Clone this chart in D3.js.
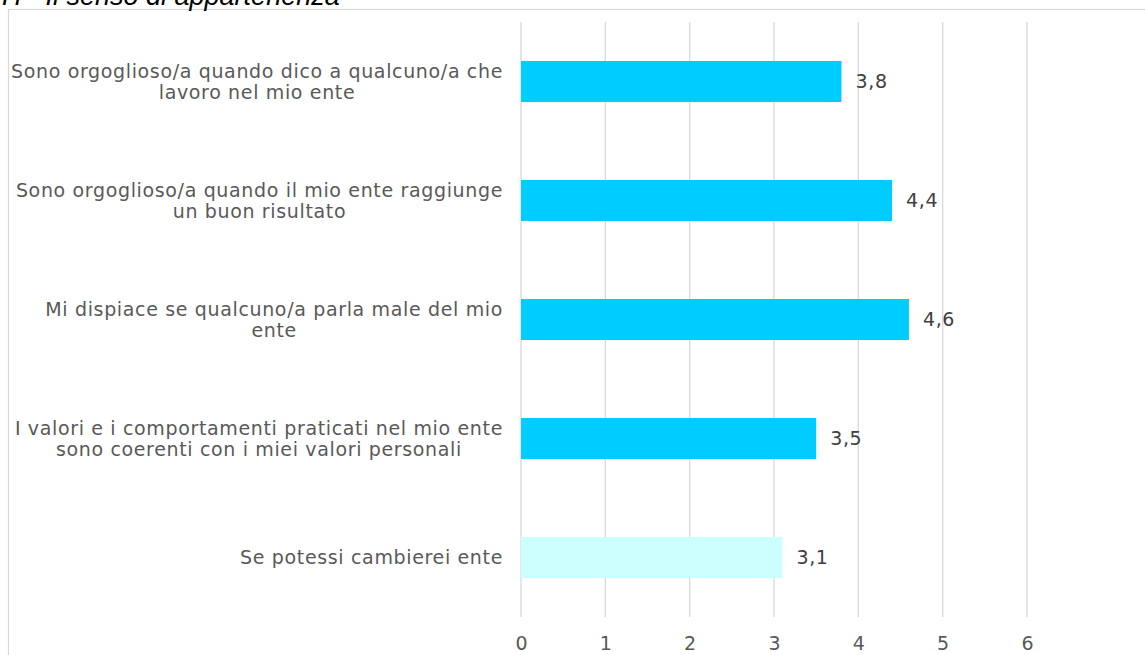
<!DOCTYPE html>
<html><head><meta charset="utf-8">
<script src="https://cdn.jsdelivr.net/npm/d3@7"></script>
<style>html,body{margin:0;padding:0;background:#fff;overflow:hidden}</style>
</head><body>
<svg id="c" width="1145" height="655"></svg>
<script>
const title = "H - Il senso di appartenenza";
const categories = [
  ["Sono orgoglioso/a quando dico a qualcuno/a che", "lavoro nel mio ente"],
  ["Sono orgoglioso/a quando il mio ente raggiunge", "un buon risultato"],
  ["Mi dispiace se qualcuno/a parla male del mio", "ente"],
  ["I valori e i comportamenti praticati nel mio ente", "sono coerenti con i miei valori personali"],
  ["Se potessi cambierei ente"]
];
const values = [3.8, 4.4, 4.6, 3.5, 3.1];
const barColors = ["#00CCFF", "#00CCFF", "#00CCFF", "#00CCFF", "#CCFFFF"];
const ticks = [0, 1, 2, 3, 4, 5, 6];

const svg = d3.select("#c");
const FONT = "'DejaVu Sans', Verdana, sans-serif";
const FS = 19, LS = 0.65;

svg.append("rect").attr("x", 8.5).attr("y", 9.5).attr("width", 1200).attr("height", 700)
  .attr("fill", "none").attr("stroke", "#d9d9d9").attr("stroke-width", 1.2);

svg.append("text").attr("x", 2).attr("y", 5).text(title)
  .attr("font-family", "'Liberation Sans', Arial, sans-serif").attr("font-style", "italic")
  .attr("font-size", 27).attr("fill", "#000");

const x = d3.scaleLinear().domain([0, 6]).range([521, 1027]);
const idx = d3.range(categories.length);
const y = d3.scaleBand().domain(idx).range([22, 617]).paddingInner(0.655).paddingOuter(0.3275);

// gridlines
svg.append("g").selectAll("line").data(ticks).join("line")
  .attr("x1", d => x(d)).attr("x2", d => x(d)).attr("y1", 22).attr("y2", 617)
  .attr("stroke", "#d9d9d9").attr("stroke-width", 1.3);

// axis
const axis = d3.axisBottom(x).tickValues(ticks).tickSize(0).tickPadding(0).tickFormat(d3.format("d"));
const ag = svg.append("g").attr("transform", "translate(0,636)").call(axis);
ag.select(".domain").remove();
ag.selectAll("text").attr("font-family", FONT).attr("font-size", FS).attr("fill", "#595959").attr("dy", "0.71em");

// bars
svg.append("g").selectAll("rect").data(idx).join("rect")
  .attr("x", x(0)).attr("y", i => y(i)).attr("width", i => x(values[i]) - x(0))
  .attr("height", y.bandwidth()).attr("fill", i => barColors[i]);

// value labels
svg.append("g").selectAll("text").data(idx).join("text")
  .attr("x", i => x(values[i]) + 14).attr("y", i => y(i) + y.bandwidth() / 2).attr("dy", "0.35em")
  .attr("font-family", FONT).attr("font-size", FS).attr("letter-spacing", LS).attr("fill", "#404040")
  .text(i => d3.format(".1f")(values[i]).replace(".", ","));

// category labels
const lh = 21;
idx.forEach(i => {
  const lines = categories[i];
  const cy = y(i) + y.bandwidth() / 2;
  const t = svg.append("text").attr("font-family", FONT).attr("font-size", FS).attr("fill", "#595959")
    .attr("letter-spacing", LS).attr("text-anchor", "middle");
  const ts = lines.map((l, k) => t.append("tspan").text(l)
    .attr("y", cy + (k - (lines.length - 1) / 2) * lh).attr("dy", "0.35em"));
  const w = d3.max(ts.map(s => s.node().getComputedTextLength()));
  ts.forEach(s => s.attr("x", 503 - w / 2));
});
</script>
</body></html>
